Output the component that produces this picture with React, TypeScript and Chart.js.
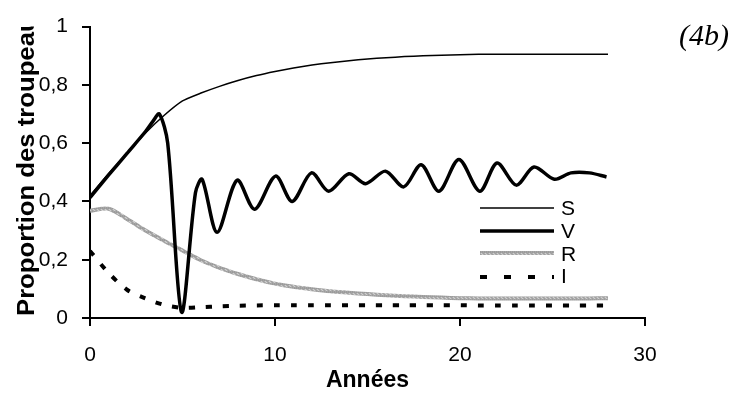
import React, { useEffect, useRef } from 'react';
import { Chart, registerables } from 'chart.js';

Chart.register(...registerables);

// ---- data ----
const years = [0, 1, 2, 3, 4, 5, 6, 7, 8, 9, 10, 11, 12, 13, 14, 15, 16, 17, 18, 19, 20, 21, 22, 23, 24, 25, 26, 27, 28];
const sValues = [0.42, 0.495, 0.565, 0.635, 0.695, 0.745, 0.772, 0.795, 0.815, 0.832, 0.846, 0.858, 0.868, 0.876, 0.883, 0.889, 0.893, 0.897, 0.9, 0.902, 0.903, 0.905, 0.905, 0.905, 0.905, 0.905, 0.905, 0.905, 0.905];
const vYears = [0, 1, 2, 3, 3.4, 3.75, 4.2, 4.95, 5.7, 6.06, 6.87, 7.95, 8.9, 10.03, 10.93, 11.97, 12.9, 13.99, 14.9, 15.97, 16.96, 17.9, 18.86, 19.94, 21.07, 22, 23.04, 24, 25.1, 26, 27, 27.92];
const vValues = [0.413, 0.49, 0.565, 0.64, 0.675, 0.7, 0.6, 0.02, 0.43, 0.476, 0.294, 0.473, 0.373, 0.487, 0.4, 0.498, 0.435, 0.495, 0.461, 0.504, 0.45, 0.526, 0.435, 0.544, 0.435, 0.532, 0.456, 0.518, 0.476, 0.498, 0.498, 0.484];
const rValues = [0.368, 0.375, 0.34, 0.3, 0.265, 0.232, 0.198, 0.172, 0.151, 0.133, 0.118, 0.107, 0.099, 0.092, 0.087, 0.082, 0.078, 0.075, 0.072, 0.07, 0.068, 0.067, 0.067, 0.067, 0.067, 0.067, 0.067, 0.067, 0.068];
const iValues = [0.23, 0.155, 0.097, 0.067, 0.045, 0.035, 0.037, 0.04, 0.042, 0.043, 0.044, 0.044, 0.044, 0.044, 0.044, 0.044, 0.044, 0.044, 0.044, 0.044, 0.044, 0.043, 0.043, 0.043, 0.043, 0.043, 0.043, 0.043, 0.043];
const seriesLabels = ['S', 'V', 'R', 'I'];
const xTickValues = [0, 10, 20, 30];
const yTickValues = [0, 0.2, 0.4, 0.6, 0.8, 1];
const xTitle = 'Années';
const yTitle = 'Proportion des troupeaux';
const panelLabel = '(4b)';

const FONT = "'Liberation Sans', Arial, sans-serif";

function toPoints(xs: number[], ys: number[]) {
  return xs.map((x, i) => ({ x, y: ys[i] }));
}

function makeGrayPattern(ctx: CanvasRenderingContext2D) {
  const c = document.createElement('canvas');
  c.width = 4;
  c.height = 4;
  const p = c.getContext('2d')!;
  const rows = [
    ['#9a9a9a', '#a4a4a4', '#9a9a9a', '#a4a4a4'],
    ['#b0b0b0', '#cfcfcf', '#b0b0b0', '#a0a0a0'],
    ['#a0a0a0', '#b0b0b0', '#cfcfcf', '#b0b0b0'],
    ['#9c9c9c', '#a8a8a8', '#9c9c9c', '#a8a8a8'],
  ];
  rows.forEach((row, y) => row.forEach((col, x) => { p.fillStyle = col; p.fillRect(x, y, 1, 1); }));
  return ctx.createPattern(c, 'repeat') || '#a8a8a8';
}

const legendLayout = { x0: 480, x1: 554, textX: 561, rows: [208, 231, 253, 277], textRows: [209, 232, 255, 277] };

const overlayPlugin = {
  id: 'overlay',
  afterDraw(chart: any) {
    const ctx: CanvasRenderingContext2D = chart.ctx;
    // legend
    seriesLabels.forEach((label, k) => {
      const ds = chart.data.datasets.find((d: any) => d.label === label);
      if (!ds) return;
      const y = legendLayout.rows[k];
      ctx.save();
      ctx.strokeStyle = ds.borderColor;
      ctx.lineWidth = ds.borderWidth;
      ctx.setLineDash(ds.legendDash || []);
      ctx.lineCap = 'butt';
      ctx.beginPath();
      ctx.moveTo(legendLayout.x0, y);
      ctx.lineTo(legendLayout.x1, y);
      ctx.stroke();
      ctx.restore();
      ctx.save();
      ctx.fillStyle = '#000';
      ctx.font = `21px ${FONT}`;
      ctx.textAlign = 'left';
      ctx.textBaseline = 'middle';
      ctx.fillText(label, legendLayout.textX, legendLayout.textRows[k]);
      ctx.restore();
    });
    // y title (clipped at top of plot)
    ctx.save();
    ctx.beginPath();
    ctx.rect(0, chart.chartArea.top, 80, 394);
    ctx.clip();
    ctx.translate(33.5, 316);
    ctx.rotate(-Math.PI / 2);
    ctx.scale(1.07, 1);
    ctx.fillStyle = '#000';
    ctx.font = `bold 24px ${FONT}`;
    ctx.textAlign = 'left';
    ctx.textBaseline = 'alphabetic';
    ctx.fillText(yTitle, 0, 0);
    ctx.restore();
    // panel label
    ctx.save();
    ctx.fillStyle = '#000';
    ctx.font = `italic 30px 'Liberation Serif', 'Times New Roman', serif`;
    ctx.textAlign = 'right';
    ctx.textBaseline = 'alphabetic';
    ctx.fillText(panelLabel, 729, 45);
    ctx.restore();
  },
};

export default function App() {
  const ref = useRef<HTMLCanvasElement | null>(null);
  useEffect(() => {
    document.body.style.margin = '0';
    const canvas = ref.current!;
    const ctx = canvas.getContext('2d')!;
    const gray = makeGrayPattern(ctx);
    const chart = new Chart(canvas, {
      type: 'line',
      data: {
        datasets: [
          { label: 'V', data: toPoints(vYears, vValues), borderColor: '#000', borderWidth: 3.5, tension: 0.3, pointRadius: 0, legendDash: [] } as any,
          { label: 'S', data: toPoints(years, sValues), borderColor: '#000', borderWidth: 1.5, tension: 0.2, pointRadius: 0, legendDash: [] } as any,
          { label: 'R', data: toPoints(years, rValues), borderColor: gray, borderWidth: 4, tension: 0.3, pointRadius: 0, legendDash: [] } as any,
          { label: 'I', data: toPoints(years, iValues), borderColor: '#000', borderWidth: 4, borderDash: [6, 11], tension: 0.3, pointRadius: 0, legendDash: [7, 17] } as any,
        ],
      },
      options: {
        responsive: false,
        animation: false,
        devicePixelRatio: 1,
        layout: { padding: { left: 0, top: 23, right: 86, bottom: 0 } },
        plugins: { legend: { display: false }, tooltip: { enabled: false }, title: { display: false } },
        scales: {
          x: {
            type: 'linear',
            min: 0,
            max: 30,
            afterFit: (s: any) => { s.height = 76; },
            afterBuildTicks: (s: any) => { s.ticks = xTickValues.map((v) => ({ value: v })); },
            ticks: { color: '#000', font: { size: 21, family: FONT }, padding: 17, maxRotation: 0 },
            grid: { display: true, drawOnChartArea: false, drawTicks: true, tickLength: 8, color: '#000', lineWidth: 2 },
            border: { display: true, color: '#000', width: 2 },
            title: { display: true, text: xTitle, color: '#000', font: { size: 23, weight: 'bold', family: FONT }, padding: { top: 0, bottom: 0 } },
          },
          y: {
            type: 'linear',
            min: 0,
            max: 1,
            afterFit: (s: any) => { s.width = 90; },
            afterBuildTicks: (s: any) => { s.ticks = yTickValues.map((v) => ({ value: v })); },
            ticks: {
              color: '#000',
              font: { size: 21, family: FONT },
              padding: 14,
              callback: (v: any) => String(Math.round(Number(v) * 10) / 10).replace('.', ','),
            },
            grid: { display: true, drawOnChartArea: false, drawTicks: true, tickLength: 8, color: '#000', lineWidth: 2 },
            border: { display: true, color: '#000', width: 2 },
          },
        },
      } as any,
      plugins: [overlayPlugin],
    });
    return () => chart.destroy();
  }, []);
  return (
    <div style={{ width: 731, height: 394 }}>
      <canvas ref={ref} width={731} height={394} style={{ display: 'block' }} />
    </div>
  );
}
